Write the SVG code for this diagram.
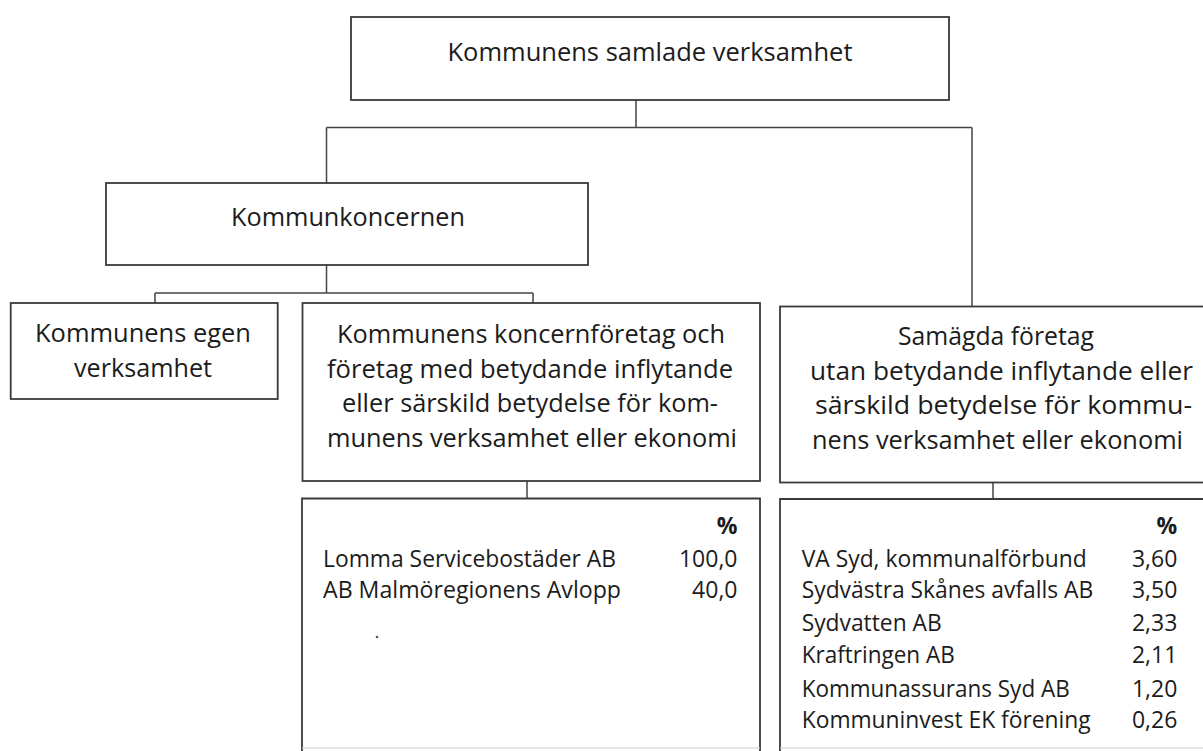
<svg xmlns="http://www.w3.org/2000/svg" width="1203" height="751" viewBox="0 0 1203 751">
<style>
.box{fill:#fff;stroke:#3a3a3a;stroke-width:1.8}
.con{fill:none;stroke:#444;stroke-width:1.5}
.t{font-family:"Open Sans","Liberation Sans",sans-serif;font-size:25.5px;fill:#1c1c1c}
.c{text-anchor:middle}
.tb{font-family:"Open Sans","Liberation Sans",sans-serif;font-size:23px;fill:#1c1c1c}
.r{text-anchor:end}
.b{font-weight:bold}
.faint{stroke:#d0d0d0;stroke-width:1.2;fill:none}
</style>
<rect width="1203" height="751" fill="#fff"/>
<g id="connectors">
<path class="con" d="M636,100 V127.5 M326.5,127.5 H972 M326.5,127.5 V183 M972,127.5 V306.5"/>
<path class="con" d="M326.5,265 V293 M155,293 H533 M155,293 V303 M533,293 V303"/>
<path class="con" d="M527,481 V498.5 M993,482.5 V499"/>
</g>
<g id="n-top">
<rect class="box" x="351" y="17" width="598" height="83"/>
<text class="t c" x="650" y="61" textLength="405" lengthAdjust="spacingAndGlyphs">Kommunens samlade verksamhet</text>
</g>
<g id="n-koncern">
<rect class="box" x="106" y="183" width="482" height="82"/>
<text class="t c" x="348" y="226" textLength="234" lengthAdjust="spacingAndGlyphs">Kommunkoncernen</text>
</g>
<g id="n-egen">
<rect class="box" x="10.7" y="303" width="267" height="96"/>
<text class="t c" x="143" y="342" textLength="216" lengthAdjust="spacingAndGlyphs">Kommunens egen</text>
<text class="t c" x="143" y="376.5" textLength="138" lengthAdjust="spacingAndGlyphs">verksamhet</text>
</g>
<g id="n-foretag">
<rect class="box" x="302.5" y="303" width="457.5" height="178"/>
<text class="t c" x="531" y="343" textLength="388" lengthAdjust="spacingAndGlyphs">Kommunens koncernföretag och</text>
<text class="t c" x="530" y="377.5" textLength="406" lengthAdjust="spacingAndGlyphs">företag med betydande inflytande</text>
<text class="t c" x="530" y="412" textLength="376" lengthAdjust="spacingAndGlyphs">eller särskild betydelse för kom-</text>
<text class="t c" x="532" y="446.5" textLength="410" lengthAdjust="spacingAndGlyphs">munens verksamhet eller ekonomi</text>
</g>
<g id="n-samagda">
<rect class="box" x="780" y="306.5" width="440" height="176"/>
<text class="t c" x="996" y="345" textLength="196" lengthAdjust="spacingAndGlyphs">Samägda företag</text>
<text class="t c" x="1001.5" y="379.5" textLength="383" lengthAdjust="spacingAndGlyphs">utan betydande inflytande eller</text>
<text class="t c" x="1003.5" y="414" textLength="377" lengthAdjust="spacingAndGlyphs">särskild betydelse för kommu-</text>
<text class="t c" x="997.5" y="448.5" textLength="371" lengthAdjust="spacingAndGlyphs">nens verksamhet eller ekonomi</text>
</g>
<g id="n-table-left">
<path class="box" d="M302,760 V498.5 H760 V760"/>
<line class="faint" x1="302" y1="748" x2="760" y2="748"/>
<text class="tb r b" x="737.5" y="534">%</text>
<text class="tb" x="323" y="566.7" textLength="293" lengthAdjust="spacingAndGlyphs">Lomma Servicebostäder AB</text>
<text class="tb r" x="737.5" y="566.7">100,0</text>
<text class="tb" x="323" y="598.3" textLength="298" lengthAdjust="spacingAndGlyphs">AB Malmöregionens Avlopp</text>
<text class="tb r" x="737.5" y="598.3">40,0</text>
<circle cx="377" cy="637" r="1.3" fill="#555"/>
</g>
<g id="n-table-right">
<path class="box" d="M780,760 V499 H1220 V760"/>
<line class="faint" x1="780" y1="748" x2="1203" y2="748"/>
<text class="tb r b" x="1177.3" y="534">%</text>
<text class="tb" x="801.7" y="566.7" textLength="285" lengthAdjust="spacingAndGlyphs">VA Syd, kommunalförbund</text>
<text class="tb r" x="1177.3" y="566.7">3,60</text>
<text class="tb" x="801.7" y="598.3" textLength="291.6" lengthAdjust="spacingAndGlyphs">Sydvästra Skånes avfalls AB</text>
<text class="tb r" x="1177.3" y="598.3">3,50</text>
<text class="tb" x="801.7" y="631.3" textLength="140" lengthAdjust="spacingAndGlyphs">Sydvatten AB</text>
<text class="tb r" x="1177.3" y="631.3">2,33</text>
<text class="tb" x="801.7" y="663.3" textLength="153" lengthAdjust="spacingAndGlyphs">Kraftringen AB</text>
<text class="tb r" x="1177.3" y="663.3">2,11</text>
<text class="tb" x="801.7" y="696.7" textLength="268" lengthAdjust="spacingAndGlyphs">Kommunassurans Syd AB</text>
<text class="tb r" x="1177.3" y="696.7">1,20</text>
<text class="tb" x="801.7" y="728.3" textLength="289" lengthAdjust="spacingAndGlyphs">Kommuninvest EK förening</text>
<text class="tb r" x="1177.3" y="728.3">0,26</text>
</g>
</svg>
